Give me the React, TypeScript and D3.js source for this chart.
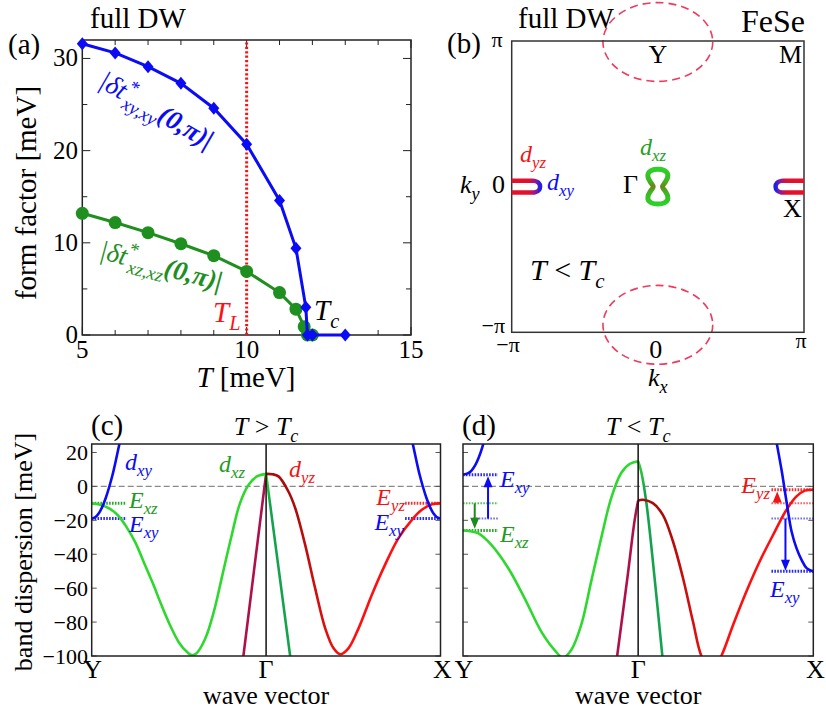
import { useEffect, useRef } from 'react';
import * as d3 from 'd3';

// ---------- (a) form factor vs temperature ----------
const tempXY = [5, 6, 7, 8, 9, 10, 11, 11.5, 11.8, 11.85, 12, 13];
const formXY = [31.6, 30.6, 29.1, 27.3, 24.6, 20.7, 14.6, 9.4, 3.0, 0, 0, 0];
const tempXZ = [5, 6, 7, 8, 9, 10, 11, 11.5, 11.75, 11.85, 12];
const formXZ = [13.2, 12.2, 11.1, 9.9, 8.6, 6.9, 4.6, 2.8, 0.9, 0, 0];
const tempL = 10;
const tempTicks = [5, 10, 15];
const formTicks = [0, 10, 20, 30];

// ---------- (b) Fermi surface (k in rad) ----------
const holeCenters = [[0, 3.12], [0, -2.98]];
const holeRadii = [1.18, 0.85];
const gammaKx = [0, 0.14, 0.205, 0.21, 0.16, 0.1, 0.16, 0.21, 0.205, 0.14, 0, -0.14, -0.205, -0.21, -0.16, -0.1, -0.16, -0.21, -0.205, -0.14];
const gammaKy = [0.376, 0.35, 0.29, 0.2, 0.1, 0, -0.1, -0.2, -0.29, -0.35, -0.376, -0.35, -0.29, -0.2, -0.1, 0, 0.1, 0.2, 0.29, 0.35];
// distance from the zone edge and ky of the pockets at (±π, 0)
const xPocketDk = [-0.1, 0.2, 0.4, 0.486, 0.574, 0.611, 0.574, 0.486, 0.4, 0.2, -0.1];
const xPocketKy = [0.125, 0.128, 0.127, 0.125, 0.088, 0, -0.088, -0.125, -0.127, -0.128, -0.125];

// ---------- (c),(d) band dispersion; path 0 = Y, 1 = Γ, 2 = X ----------
const bandTicks = [20, 0, -20, -40, -60, -80, -100];
const pathTicks = [0, 1, 2];
const pathLabels = ['Y', 'Γ', 'X'];

// (c) T > Tc
const cXzK = [0, 0.05, 0.1, 0.15, 0.2, 0.25, 0.3, 0.35, 0.4, 0.45, 0.5, 0.55, 0.575, 0.6, 0.65, 0.7, 0.75, 0.8, 0.85, 0.9, 0.95, 1];
const cXzE = [-10, -10.8, -13, -17, -24, -33, -45, -57, -70, -82, -92, -98, -99.5, -98.5, -90, -74, -52, -30, -10, 1, 6, 7.4];
const cYzK = [1, 1.036, 1.071, 1.128, 1.167, 1.224, 1.281, 1.339, 1.387, 1.425, 1.472, 1.53, 1.606, 1.683, 1.759, 1.836, 1.893, 1.951, 2];
const cYzE = [7.4, 7.2, 5.9, -3, -12.8, -34.5, -60, -83.7, -95.5, -99, -95.5, -83.7, -64, -46, -30.5, -19.7, -13.8, -10.5, -10];
const cSteepYK = [0.865, 0.935, 1];
const cSteepYE = [-104, -46, 7.4];
const cSteepXK = [1, 1.07, 1.143];
const cSteepXE = [7.4, -47, -104];
const cXyLeftK = [0, 0.02, 0.04, 0.06, 0.08, 0.1, 0.12, 0.14, 0.165];
const cXyLeftE = [-19, -18.2, -16, -12.2, -7, -0.5, 7, 16, 28];
const cXyRightK = [1.835, 1.86, 1.88, 1.9, 1.92, 1.94, 1.96, 1.98, 2];
const cXyRightE = [28, 16, 7, -0.5, -7, -12.2, -16, -18.2, -19];
const cLevelGreen = [[0, 0.2, -10]];
const cLevelBlue = [[0, 0.2, -19], [1.797, 2, -19]];
const cLevelRed = [[1.797, 2, -10]];

// (d) T < Tc
const dXzK = [0, 0.04, 0.086, 0.162, 0.257, 0.352, 0.447, 0.523, 0.571, 0.618, 0.675, 0.732, 0.789, 0.846, 0.903, 0.951, 1];
const dXzE = [-26, -26.4, -27.6, -34.5, -48, -66, -85.6, -96.5, -101, -96.5, -81.7, -56, -30.5, -6.9, 7.9, 13.2, 14.8];
const dYzK = [1, 1.027, 1.084, 1.141, 1.199, 1.256, 1.313, 1.361, 1.418, 1.475, 1.542, 1.618, 1.695, 1.771, 1.847, 1.904, 1.952, 2];
const dYzE = [-8.3, -7.9, -9.9, -16.8, -32.5, -54, -79.7, -100, -110, -100, -81.7, -62, -44, -28.5, -13.8, -5.9, -2.5, -2];
const dSteepYK = [0.875, 0.941, 0.979, 1];
const dSteepYE = [-104, -52, -20.6, -8.3];
const dSteepXK = [1, 1.017, 1.046, 1.084, 1.142];
const dSteepXE = [14.8, 8.9, -8.9, -44, -104];
const dXyLeftK = [0, 0.03, 0.05, 0.07, 0.09, 0.11, 0.125];
const dXyLeftE = [6.9, 7.8, 9.5, 12.5, 17, 23, 29];
const dXyRightK = [1.78, 1.792, 1.82, 1.847, 1.876, 1.904, 1.933, 1.962, 2];
const dXyRightE = [32, 25, 8.9, -8.9, -26.6, -36.4, -43.3, -48.2, -50.2];
const dLevelBlue = [[0, 0.2, 6.9], [1.761, 2, -50]];
const dLevelBlueFaint = [[0.057, 0.2, -19], [1.761, 2, -19]];
const dLevelGreen = [[0, 0.2, -26]];
const dLevelGreenFaint = [[0, 0.2, -10]];
const dLevelRed = [[1.761, 2, -2]];
const dLevelRedFaint = [[1.761, 2, -10]];
const dArrowBlue = [[0.143, -19, 6], [1.841, -19, -49.8]];
const dArrowGreen = [[0.067, -10, -25]];
const dArrowRed = [[1.794, -10, -3]];

const FONT = "'Liberation Serif', Tinos, 'Times New Roman', 'DejaVu Serif', serif";
const BLUE = '#0b0bf5';
const LIME = '#2fd82f';
const DKGREEN = '#1f8f1f';
const RED = '#f01414';

type Seg = { t: string; it?: boolean; sub?: boolean; sup?: boolean; dx?: number; bold?: boolean };
const it = (t: string): Seg => ({ t, it: true });
const rm = (t: string): Seg => ({ t });
const sub = (t: string): Seg => ({ t, it: true, sub: true });

function rich(parent: any, x: number, y: number, segs: Seg[], size: number, color = '#000', anchor = 'start') {
  const text = parent
    .append('text')
    .attr('x', x)
    .attr('y', y)
    .attr('font-size', size)
    .attr('fill', color)
    .attr('text-anchor', anchor);
  let shift = 0;
  segs.forEach(s => {
    const target = s.sub ? size * 0.26 : s.sup ? -size * 0.42 : 0;
    const ts = text
      .append('tspan')
      .attr('dy', target - shift)
      .attr('font-size', s.sub || s.sup ? size * 0.7 : size)
      .attr('font-style', s.it ? 'italic' : 'normal')
      .text(s.t);
    if (s.dx) ts.attr('dx', s.dx);
    if (s.bold) ts.attr('font-weight', 'bold');
    shift = target;
  });
  return text;
}

function drawFormFactor(svg: any) {
  const x = d3.scaleLinear().domain([5, 15]).range([82.3, 411]);
  const y = d3.scaleLinear().domain([0, 32]).range([335, 40]);
  const [x0, x1] = x.range();
  const [yb, yt] = y.range();
  const g = svg.append('g');

  // inward ticks on all four sides
  x.ticks(10).forEach(v => {
    const len = tempTicks.includes(v) ? 8 : 5;
    g.append('line').attr('x1', x(v)).attr('x2', x(v)).attr('y1', yb).attr('y2', yb - len).attr('stroke', '#222');
    g.append('line').attr('x1', x(v)).attr('x2', x(v)).attr('y1', yt).attr('y2', yt + len).attr('stroke', '#222');
  });
  d3.range(0, 32, 5).forEach(v => {
    const len = formTicks.includes(v) ? 8 : 5;
    g.append('line').attr('x1', x0).attr('x2', x0 + len).attr('y1', y(v)).attr('y2', y(v)).attr('stroke', '#222');
    g.append('line').attr('x1', x1).attr('x2', x1 - len).attr('y1', y(v)).attr('y2', y(v)).attr('stroke', '#222');
  });
  g.append('rect').attr('x', x0).attr('y', yt).attr('width', x1 - x0).attr('height', yb - yt)
    .attr('fill', 'none').attr('stroke', '#222').attr('stroke-width', 1.5);

  tempTicks.forEach(v => {
    g.append('text').attr('x', x(v)).attr('y', 358).attr('text-anchor', 'middle').attr('font-size', 25).text(v);
  });
  formTicks.forEach(v => {
    g.append('text').attr('x', 78).attr('y', y(v) + 8).attr('text-anchor', 'end').attr('font-size', 25).text(v);
  });

  // T_L marker
  g.append('line').attr('x1', x(tempL)).attr('x2', x(tempL)).attr('y1', y(0)).attr('y2', y(32))
    .attr('stroke', '#ff1010').attr('stroke-width', 3).attr('stroke-dasharray', '2.2,2.2');

  const lineXZ = d3.line<number>().x((_, i) => x(tempXZ[i])).y(d => y(d));
  g.append('path').datum(formXZ).attr('d', lineXZ).attr('fill', 'none').attr('stroke', DKGREEN).attr('stroke-width', 3);
  g.selectAll('.dot-xz').data(formXZ).enter().append('circle')
    .attr('cx', (_, i) => x(tempXZ[i])).attr('cy', d => y(d)).attr('r', 6.5).attr('fill', DKGREEN);

  const lineXY = d3.line<number>().x((_, i) => x(tempXY[i])).y(d => y(d));
  g.append('path').datum(formXY).attr('d', lineXY).attr('fill', 'none').attr('stroke', BLUE).attr('stroke-width', 3);
  g.selectAll('.dot-xy').data(formXY).enter().append('path')
    .attr('transform', (d, i) => `translate(${x(tempXY[i])},${y(d)})`)
    .attr('d', 'M0,-6.5L5.5,0L0,6.5L-5.5,0Z').attr('fill', BLUE);

  // labels
  svg.append('text').attr('x', 90).attr('y', 28).attr('font-size', 29).text('full DW');
  svg.append('text').attr('x', 8).attr('y', 54).attr('font-size', 29).text('(a)');
  svg.append('text').attr('transform', 'translate(36,193) rotate(-90)').attr('text-anchor', 'middle')
    .attr('font-size', 29).text('form factor [meV]');
  rich(svg, 246, 387, [it('T'), rm(' [meV]')], 29, '#000', 'middle');

  const gb = svg.append('g').attr('transform', 'translate(97,86) rotate(30)');
  rich(gb, 0, 0, [it('|δt'), { t: '*', sup: true, it: true }, { t: 'xy,xy', sub: true, it: true, dx: -6 }, { t: '(0,π)|', it: true, bold: true }], 27, BLUE);
  const gg = svg.append('g').attr('transform', 'translate(98,258) rotate(15)');
  rich(gg, 0, 0, [it('|δt'), { t: '*', sup: true, it: true }, { t: 'xz,xz', sub: true, it: true, dx: -6 }, { t: '(0,π)|', it: true, bold: true }], 27, DKGREEN);

  rich(svg, 213, 322, [it('T'), sub('L')], 29, '#ff1010');
  rich(svg, 314, 320, [it('T'), sub('c')], 29, '#000');
}

function drawFermiSurface(svg: any, defs: any) {
  const kx = d3.scaleLinear().domain([-Math.PI, Math.PI]).range([511.7, 804]);
  const ky = d3.scaleLinear().domain([-Math.PI, Math.PI]).range([332.3, 41]);
  const [x0, x1] = kx.range();
  const [yb, yt] = ky.range();

  defs.append('clipPath').attr('id', 'clip-b').append('rect')
    .attr('x', x0).attr('y', yt).attr('width', x1 - x0).attr('height', yb - yt);

  holeCenters.forEach(([cx, cy]) => {
    svg.append('ellipse').attr('cx', kx(cx)).attr('cy', ky(cy))
      .attr('rx', kx(holeRadii[0]) - kx(0)).attr('ry', ky(0) - ky(holeRadii[1]))
      .attr('fill', 'none').attr('stroke', '#ee3a5e').attr('stroke-width', 1.6).attr('stroke-dasharray', '8,5');
  });

  svg.append('rect').attr('x', x0).attr('y', yt).attr('width', x1 - x0).attr('height', yb - yt)
    .attr('fill', 'none').attr('stroke', '#333').attr('stroke-width', 1.5);

  const plot = svg.append('g').attr('clip-path', 'url(#clip-b)');

  // Γ pocket
  const gGrad = defs.append('linearGradient').attr('id', 'grad-gamma').attr('gradientUnits', 'userSpaceOnUse')
    .attr('x1', 0).attr('x2', 0).attr('y1', ky(0.4)).attr('y2', ky(-0.4));
  [[0, '#2ad42a'], [0.35, '#3fb522'], [0.5, '#6e8418'], [0.65, '#3fb522'], [1, '#2ad42a']].forEach(([o, c]) =>
    gGrad.append('stop').attr('offset', o).attr('stop-color', c));
  const gLine = d3.line<number>().x((_, i) => kx(gammaKx[i])).y(d => ky(d)).curve(d3.curveCatmullRomClosed.alpha(0.5));
  plot.append('path').datum(gammaKy).attr('d', gLine).attr('fill', 'none')
    .attr('stroke', 'url(#grad-gamma)').attr('stroke-width', 5);

  // pockets at (±π, 0)
  [-1, 1].forEach(side => {
    const edge = side * Math.PI;
    const kxOf = (dk: number) => edge - side * dk;
    const id = `grad-x${side < 0 ? 'l' : 'r'}`;
    const grad = defs.append('linearGradient').attr('id', id).attr('gradientUnits', 'userSpaceOnUse')
      .attr('x1', kx(kxOf(0))).attr('x2', kx(kxOf(0.611))).attr('y1', 0).attr('y2', 0);
    [[0, '#e8102a'], [0.6, '#e0102e'], [0.85, '#8a1a9a'], [1, '#1f1fe6']].forEach(([o, c]) =>
      grad.append('stop').attr('offset', o).attr('stop-color', c));
    const pLine = d3.line<number>().x((_, i) => kx(kxOf(xPocketDk[i]))).y(d => ky(d)).curve(d3.curveCatmullRom.alpha(0.5));
    plot.append('path').datum(xPocketKy).attr('d', pLine).attr('fill', 'none')
      .attr('stroke', `url(#${id})`).attr('stroke-width', 4.5).attr('stroke-linecap', 'round');
  });

  // labels
  svg.append('text').attr('x', 518).attr('y', 28).attr('font-size', 29).text('full DW');
  svg.append('text').attr('x', 805).attr('y', 32).attr('text-anchor', 'end').attr('font-size', 32).text('FeSe');
  svg.append('text').attr('x', 447).attr('y', 53).attr('font-size', 29).text('(b)');
  svg.append('text').attr('x', 497).attr('y', 47).attr('text-anchor', 'middle').attr('font-size', 22).text('π');
  svg.append('text').attr('x', 505).attr('y', 333).attr('text-anchor', 'end').attr('font-size', 22).text('−π');
  svg.append('text').attr('x', 508).attr('y', 352).attr('text-anchor', 'middle').attr('font-size', 22).text('−π');
  svg.append('text').attr('x', kx(0) - 2).attr('y', 358).attr('text-anchor', 'middle').attr('font-size', 26).text('0');
  svg.append('text').attr('x', 801).attr('y', 348).attr('text-anchor', 'middle').attr('font-size', 22).text('π');
  rich(svg, 648, 386, [it('k'), sub('x')], 26);
  rich(svg, 460, 193, [it('k'), sub('y')], 26);
  svg.append('text').attr('x', 492).attr('y', 193).attr('font-size', 26).text('0');
  svg.append('text').attr('x', kx(0)).attr('y', 63).attr('text-anchor', 'middle').attr('font-size', 26).text('Y');
  svg.append('text').attr('x', 802).attr('y', 63).attr('text-anchor', 'end').attr('font-size', 26).text('M');
  svg.append('text').attr('x', 623).attr('y', 193).attr('font-size', 26).text('Γ');
  svg.append('text').attr('x', 783).attr('y', 217).attr('font-size', 26).text('X');
  rich(svg, 520, 162, [it('d'), sub('yz')], 24, RED);
  rich(svg, 547, 190, [it('d'), sub('xy')], 24, BLUE);
  rich(svg, 640, 155, [it('d'), sub('xz')], 24, '#22a022');
  rich(svg, 530, 280, [it('T'), rm(' < '), it('T'), sub('c')], 30);
}

function bandFrame(svg: any, defs: any, id: string, x: any, y: any, withLabels: boolean) {
  const [x0, x1] = x.range();
  const [yb, yt] = y.range();
  defs.append('clipPath').attr('id', `clip-${id}`).append('rect')
    .attr('x', x0).attr('y', yt).attr('width', x1 - x0).attr('height', yb - yt);
  const plot = svg.append('g').attr('clip-path', `url(#clip-${id})`);
  plot.append('line').attr('x1', x0).attr('x2', x1).attr('y1', y(0)).attr('y2', y(0))
    .attr('stroke', '#8a8a8a').attr('stroke-width', 1.2).attr('stroke-dasharray', '6,3');

  const frame = svg.append('g');
  bandTicks.forEach(v => {
    frame.append('line').attr('x1', x0).attr('x2', x0 + 5).attr('y1', y(v)).attr('y2', y(v)).attr('stroke', '#555');
    frame.append('line').attr('x1', x1).attr('x2', x1 - 5).attr('y1', y(v)).attr('y2', y(v)).attr('stroke', '#555');
    if (withLabels) {
      frame.append('text').attr('x', 88).attr('y', y(v) + 7.5).attr('text-anchor', 'end').attr('font-size', 22)
        .text(v < 0 ? `−${-v}` : `${v}`);
    }
  });
  frame.append('line').attr('x1', x(1)).attr('x2', x(1)).attr('y1', yb).attr('y2', yt).attr('stroke', '#111').attr('stroke-width', 1.5);
  frame.append('rect').attr('x', x0).attr('y', yt).attr('width', x1 - x0).attr('height', yb - yt)
    .attr('fill', 'none').attr('stroke', '#222').attr('stroke-width', 1.5);
  pathTicks.forEach((v, i) => {
    frame.append('text').attr('x', x(v) + (i === 2 ? 2 : i === 0 ? 1 : 0)).attr('y', 678).attr('text-anchor', 'middle')
      .attr('font-size', 26).text(pathLabels[i]);
  });
  frame.append('text').attr('x', x(1)).attr('y', 704).attr('text-anchor', 'middle').attr('font-size', 26).text('wave vector');

  // gradient: dark red near Γ, bright red towards X
  const rg = defs.append('linearGradient').attr('id', `yz-${id}`).attr('gradientUnits', 'userSpaceOnUse')
    .attr('x1', x(1.15)).attr('x2', x(1.45)).attr('y1', 0).attr('y2', 0);
  rg.append('stop').attr('offset', 0).attr('stop-color', '#a80c0c');
  rg.append('stop').attr('offset', 1).attr('stop-color', '#ff1010');
  return plot;
}

function band(g: any, x: any, y: any, k: number[], e: number[], stroke: string, width = 2.6) {
  const line = d3.line<number>().x((_, i) => x(k[i])).y(d => y(d)).curve(d3.curveCatmullRom.alpha(0.5));
  g.append('path').datum(e).attr('d', line).attr('fill', 'none').attr('stroke', stroke).attr('stroke-width', width);
}

function levels(g: any, x: any, y: any, list: number[][], color: string, width: number, opacity = 1) {
  list.forEach(([k0, k1, e]) => {
    g.append('line').attr('x1', x(k0)).attr('x2', x(k1)).attr('y1', y(e)).attr('y2', y(e))
      .attr('stroke', color).attr('stroke-width', width).attr('stroke-dasharray', '1.6,1.3').attr('opacity', opacity);
  });
}

function arrows(g: any, x: any, y: any, list: number[][], color: string) {
  list.forEach(([k, e0, e1]) => {
    const px = x(k);
    const ya = y(e0);
    const yb = y(e1);
    const dir = Math.sign(yb - ya);
    g.append('line').attr('x1', px).attr('x2', px).attr('y1', ya).attr('y2', yb - dir * 8)
      .attr('stroke', color).attr('stroke-width', 2);
    g.append('path').attr('d', `M${px},${yb}L${px - 4.5},${yb - dir * 11}L${px + 4.5},${yb - dir * 11}Z`).attr('fill', color);
  });
}

function steepGradient(defs: any, id: string, y: any, top: number) {
  const sg = defs.append('linearGradient').attr('id', id).attr('gradientUnits', 'userSpaceOnUse')
    .attr('x1', 0).attr('x2', 0).attr('y1', y(top)).attr('y2', y(top - 18));
  sg.append('stop').attr('offset', 0).attr('stop-color', LIME);
  sg.append('stop').attr('offset', 1).attr('stop-color', '#15a24e');
}

function drawBandsC(svg: any, defs: any) {
  const x = d3.scaleLinear().domain([0, 2]).range([91.7, 440.5]);
  const y = d3.scaleLinear().domain([-100, 25]).range([656, 444]);
  const plot = bandFrame(svg, defs, 'c', x, y, true);
  steepGradient(defs, 'steep-c', y, 7.4);

  levels(plot, x, y, cLevelGreen, '#2aa82a', 3);
  levels(plot, x, y, cLevelBlue, '#2a2af0', 3);
  levels(plot, x, y, cLevelRed, '#f03030', 3);

  band(plot, x, y, cSteepYK, cSteepYE, '#b0104a');
  band(plot, x, y, cSteepXK, cSteepXE, 'url(#steep-c)');
  band(plot, x, y, cYzK, cYzE, 'url(#yz-c)');
  band(plot, x, y, cXzK, cXzE, LIME);
  band(plot, x, y, cXyLeftK, cXyLeftE, BLUE);
  band(plot, x, y, cXyRightK, cXyRightE, BLUE);

  svg.append('text').attr('x', 91).attr('y', 435).attr('font-size', 29).text('(c)');
  rich(svg, x(1), 435, [it('T'), rm(' > '), it('T'), sub('c')], 26, '#000', 'middle');
  svg.append('text').attr('transform', 'translate(32,552) rotate(-90)').attr('text-anchor', 'middle')
    .attr('font-size', 26).text('band dispersion [meV]');
  rich(svg, 125, 470, [it('d'), sub('xy')], 24, BLUE);
  rich(svg, 219, 472, [it('d'), sub('xz')], 24, '#229a22');
  rich(svg, 289, 477, [it('d'), sub('yz')], 24, RED);
  rich(svg, 129, 508, [it('E'), sub('xz')], 24, '#229a22');
  rich(svg, 129, 532, [it('E'), sub('xy')], 24, BLUE);
  rich(svg, 405, 505, [it('E'), sub('yz')], 24, RED, 'end');
  rich(svg, 404, 530, [it('E'), sub('xy')], 24, BLUE, 'end');
}

function drawBandsD(svg: any, defs: any) {
  const x = d3.scaleLinear().domain([0, 2]).range([463, 813.3]);
  const y = d3.scaleLinear().domain([-100, 25]).range([656, 444]);
  const plot = bandFrame(svg, defs, 'd', x, y, false);
  steepGradient(defs, 'steep-d', y, 14.8);

  levels(plot, x, y, dLevelGreenFaint, '#2aa82a', 2, 0.75);
  levels(plot, x, y, dLevelBlueFaint, '#4040f0', 2, 0.75);
  levels(plot, x, y, dLevelRedFaint, '#f03030', 2, 0.75);
  levels(plot, x, y, dLevelGreen, '#2aa82a', 3);
  levels(plot, x, y, dLevelBlue, '#2a2af0', 3);
  levels(plot, x, y, dLevelRed, '#f03030', 3);

  band(plot, x, y, dSteepYK, dSteepYE, '#b0104a');
  band(plot, x, y, dSteepXK, dSteepXE, 'url(#steep-d)');
  band(plot, x, y, dYzK, dYzE, 'url(#yz-d)');
  band(plot, x, y, dXzK, dXzE, LIME);
  band(plot, x, y, dXyLeftK, dXyLeftE, BLUE);
  band(plot, x, y, dXyRightK, dXyRightE, BLUE);

  arrows(svg, x, y, dArrowBlue, BLUE);
  arrows(svg, x, y, dArrowGreen, '#1e8a1e');
  arrows(svg, x, y, dArrowRed, RED);

  svg.append('text').attr('x', 462).attr('y', 435).attr('font-size', 29).text('(d)');
  rich(svg, x(1), 435, [it('T'), rm(' < '), it('T'), sub('c')], 26, '#000', 'middle');
  rich(svg, 500, 487, [it('E'), sub('xy')], 24, BLUE);
  rich(svg, 500, 542, [it('E'), sub('xz')], 24, '#229a22');
  rich(svg, 770, 493, [it('E'), sub('yz')], 24, RED, 'end');
  rich(svg, 770, 597, [it('E'), sub('xy')], 24, BLUE);
}

export default function App() {
  const svgRef = useRef<SVGSVGElement>(null);

  useEffect(() => {
    if (!svgRef.current) return;
    const svg = d3.select(svgRef.current);
    svg.selectAll('*').remove();
    const defs = svg.append('defs');

    drawFormFactor(svg);
    drawFermiSurface(svg, defs);
    drawBandsC(svg, defs);
    drawBandsD(svg, defs);
  }, []);

  return (
    <svg
      ref={svgRef}
      width={826}
      height={713}
      style={{ position: 'absolute', left: 0, top: 0, background: '#fff', fontFamily: FONT }}
    />
  );
}
